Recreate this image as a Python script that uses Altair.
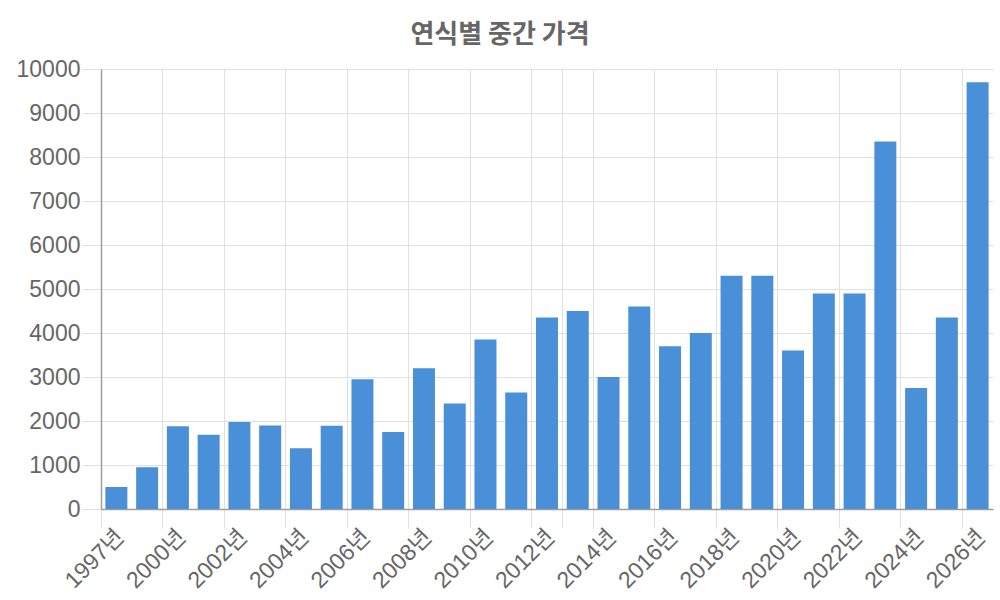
import altair as alt
import pandas as pd

years = ["1997", "1999", "2000", "2001", "2002", "2003", "2004", "2005", "2006", "2007",
         "2008", "2009", "2010", "2011", "2012", "2013", "2014", "2015", "2016", "2017",
         "2018", "2019", "2020", "2021", "2022", "2023", "2024", "2025", "2026"]
values = [500, 950, 1880, 1690, 1980, 1900, 1380, 1890, 2950, 1750,
          3200, 2400, 3850, 2650, 4350, 4500, 3000, 4600, 3700, 4000,
          5300, 5300, 3600, 4900, 4900, 8350, 2750, 4350, 9700]
tick_years = ["1997", "2000", "2002", "2004", "2006", "2008", "2010", "2012", "2013",
              "2014", "2016", "2018", "2020", "2022", "2024", "2026"]
hidden_tick_labels = ["2013년"]
y_ticks = [0, 1000, 2000, 3000, 4000, 5000, 6000, 7000, 8000, 9000, 10000]

labels = [y + "년" for y in years]
df = pd.DataFrame({"label": labels, "value": values})
tick_labels = [y + "년" for y in tick_years]

W, H = 892, 440
step = W / len(labels)

font = "Liberation Sans, Arial, Noto Sans CJK KR, sans-serif"
grid_c = "#e0e0e0"
text_c = "#666666"

hide_expr = " || ".join("datum.value == '%s'" % t for t in hidden_tick_labels)

chart = alt.Chart(df).mark_bar(
    color="#4a90d9", width=alt.RelativeBandSize(0.715)
).encode(
    x=alt.X(
        "label:N", sort=labels,
        scale=alt.Scale(paddingInner=0, paddingOuter=0),
        axis=alt.Axis(
            title=None, values=tick_labels,
            labelExpr="(%s) ? '' : datum.label" % hide_expr,
            bandPosition=0, labelOffset=4,
            labelAngle=-45, labelAlign="right", labelBaseline="middle",
            labelPadding=5, labelOverlap=False, labelBound=False,
            labelFont=font, labelFontSize=23, labelColor=text_c,
            tickSize=19, tickColor=grid_c, grid=True, gridColor=grid_c,
            domainColor="#9e9e9e", domainWidth=1.5,
        ),
    ),
    y=alt.Y(
        "value:Q",
        scale=alt.Scale(domain=[0, 10000], nice=False),
        axis=alt.Axis(
            title=None, values=y_ticks, format="d",
            labelFont=font, labelFontSize=23, labelColor=text_c,
            labelPadding=2, tickSize=19, tickColor=grid_c,
            grid=True, gridColor=grid_c,
            domainColor="#9e9e9e", domainWidth=1.5,
        ),
    ),
).properties(
    width=W, height=H,
    title=alt.TitleParams(
        "연식별 중간 가격", font="Noto Sans CJK KR", fontSize=26, fontWeight="bold",
        color=text_c, anchor="middle", frame="group", dx=-47, dy=36,
        baseline="alphabetic", offset=25,
    ),
    autosize=alt.AutoSizeParams(type="none"),
    padding={"left": 101, "top": 69, "right": 7, "bottom": 91},
).configure_view(stroke=None)

chart.save("out.html", embed_options={"renderer": "svg", "actions": False})
